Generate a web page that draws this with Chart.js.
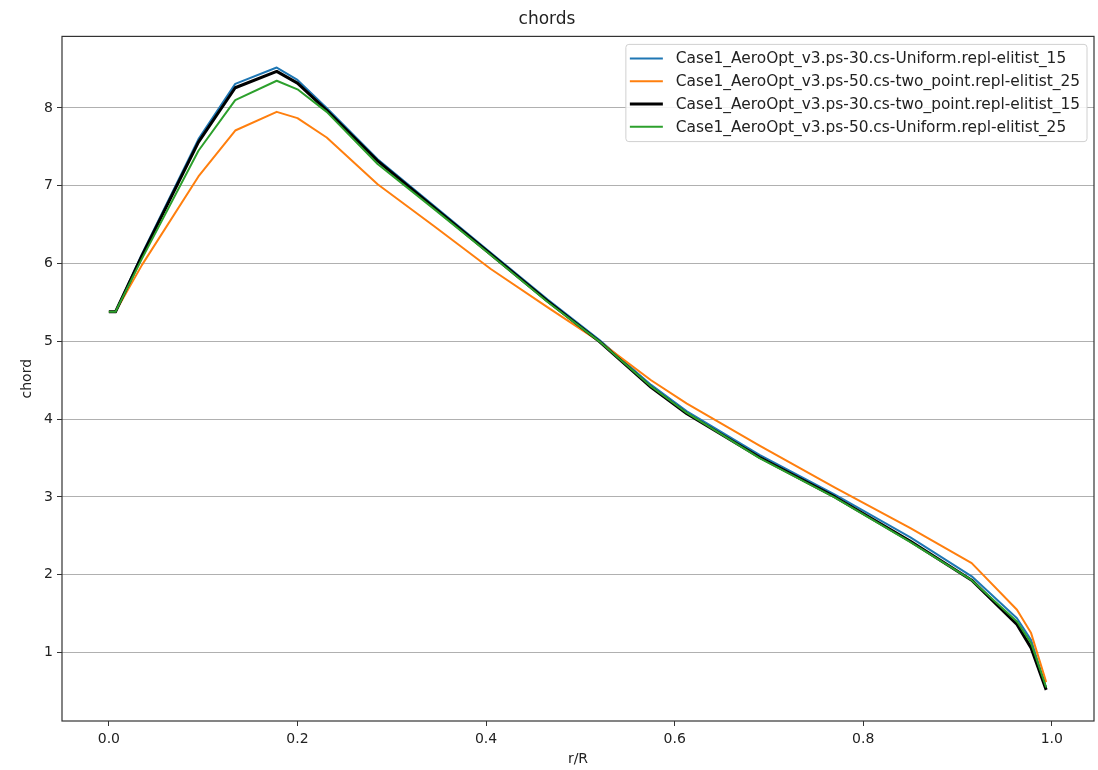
<!DOCTYPE html>
<html>
<head>
<meta charset="utf-8">
<script src="https://cdn.jsdelivr.net/npm/chart.js@4.4.1/dist/chart.umd.min.js"></script>
<style>
  body { margin: 0; background: #fff; }
  #wrap { width: 1098px; height: 770px; }
</style>
</head>
<body>
<div id="wrap"><canvas id="chordChart" width="1098" height="770"></canvas></div>
<script>
// r/R stations
const rR = [0, 0.007, 0.035, 0.095, 0.134, 0.178, 0.2, 0.231, 0.285, 0.345, 0.405, 0.465, 0.52, 0.575, 0.613, 0.69, 0.77, 0.85, 0.915, 0.963, 0.978, 0.994];

// chord per run
const uniform30  = [5.38, 5.38, 6.12, 7.60, 8.31, 8.52, 8.36, 8.00, 7.34, 6.74, 6.14, 5.54, 5.02, 4.44, 4.10, 3.54, 3.03, 2.48, 1.98, 1.44, 1.16, 0.54];
const twoPoint50 = [5.38, 5.38, 5.98, 7.12, 7.71, 7.95, 7.87, 7.62, 7.02, 6.48, 5.93, 5.44, 5.00, 4.50, 4.20, 3.66, 3.12, 2.60, 2.15, 1.55, 1.25, 0.62];
const twoPoint30 = [5.38, 5.38, 6.10, 7.56, 8.26, 8.47, 8.32, 7.97, 7.32, 6.72, 6.12, 5.52, 5.00, 4.41, 4.07, 3.51, 3.00, 2.43, 1.93, 1.36, 1.06, 0.52];
const uniform50  = [5.38, 5.38, 6.06, 7.45, 8.10, 8.35, 8.24, 7.95, 7.28, 6.70, 6.11, 5.51, 5.00, 4.42, 4.08, 3.50, 2.99, 2.42, 1.93, 1.40, 1.12, 0.55];

const seriesLabels = [
  'Case1_AeroOpt_v3.ps-30.cs-Uniform.repl-elitist_15',
  'Case1_AeroOpt_v3.ps-50.cs-two_point.repl-elitist_25',
  'Case1_AeroOpt_v3.ps-30.cs-two_point.repl-elitist_15',
  'Case1_AeroOpt_v3.ps-50.cs-Uniform.repl-elitist_25'
];
const seriesColors = ['#1f77b4', '#ff7f0e', '#000000', '#2ca02c'];
const seriesWidths = [2, 2, 3, 2];
const seriesValues = [uniform30, twoPoint50, twoPoint30, uniform50];

const FONT = 'DejaVu Sans';

// frame on all four sides (matplotlib spines)
const framePlugin = {
  id: 'frame',
  afterDatasetsDraw(chart) {
    const {ctx, chartArea: a} = chart;
    ctx.save();
    ctx.strokeStyle = '#333';
    ctx.lineWidth = 1.2;
    ctx.strokeRect(a.left, a.top, a.right - a.left, a.bottom - a.top);
    ctx.restore();
  }
};

// legend box inside the axes, upper right
const boxLegend = {
  id: 'boxLegend',
  afterDraw(chart) {
    const {ctx, chartArea: a} = chart;
    const sets = chart.data.datasets;
    ctx.save();
    ctx.font = '15.4px "' + FONT + '"';
    let textW = 0;
    sets.forEach(ds => { textW = Math.max(textW, ctx.measureText(ds.label).width); });
    const rowH = 22.8;
    const w = textW + 57, h = sets.length * rowH + 6;
    const x = a.right - 7 - w, y = a.top + 8;
    ctx.beginPath();
    ctx.roundRect(x, y, w, h, 3);
    ctx.fillStyle = 'rgba(255,255,255,0.85)';
    ctx.fill();
    ctx.strokeStyle = '#d0d0d0';
    ctx.lineWidth = 1;
    ctx.stroke();
    ctx.textBaseline = 'middle';
    sets.forEach((ds, i) => {
      const cy = y + 14 + i * rowH;
      ctx.beginPath();
      ctx.moveTo(x + 4, cy);
      ctx.lineTo(x + 37, cy);
      ctx.strokeStyle = ds.borderColor;
      ctx.lineWidth = ds.borderWidth;
      ctx.stroke();
      ctx.fillStyle = '#222';
      ctx.fillText(ds.label, x + 50, cy + 1);
    });
    ctx.restore();
  }
};

const ctx = document.getElementById('chordChart').getContext('2d');
const chordChart = new Chart(ctx, {
  type: 'line',
  data: {
    datasets: seriesValues.map((vals, i) => ({
      label: seriesLabels[i],
      data: rR.map((r, k) => ({x: r, y: vals[k]})),
      borderColor: seriesColors[i],
      backgroundColor: seriesColors[i],
      borderWidth: seriesWidths[i],
      pointRadius: 0,
      tension: 0,
      fill: false,
      borderJoinStyle: 'round',
      order: seriesValues.length - i
    }))
  },
  options: {
    responsive: false,
    animation: false,
    layout: { padding: { right: 4 } },
    plugins: {
      legend: { display: false },
      tooltip: { enabled: false },
      title: {
        display: true,
        text: 'chords',
        color: '#222',
        font: { family: FONT, size: 17, weight: 'normal' },
        padding: { top: 9, bottom: 7 }
      }
    },
    scales: {
      x: {
        type: 'linear',
        min: -0.0497, max: 1.0447,
        border: { display: false },
        grid: { drawOnChartArea: false, drawTicks: true, tickLength: 5, tickColor: '#333' },
        ticks: {
          stepSize: 0.2, includeBounds: false, padding: 5,
          color: '#222', font: { family: FONT, size: 14 },
          callback: v => v.toFixed(1)
        },
        title: { display: true, text: 'r/R', color: '#222', font: { family: FONT, size: 14 }, padding: { top: 0, bottom: 2 } },
        afterFit(scale) { scale.height = 49; }
      },
      y: {
        min: 0.12, max: 8.92,
        border: { display: false },
        grid: { color: '#b0b0b0', lineWidth: 1, tickLength: 5, tickColor: '#333' },
        ticks: {
          stepSize: 1, includeBounds: false, padding: 4,
          color: '#222', font: { family: FONT, size: 14 }
        },
        title: { display: true, text: 'chord', color: '#222', font: { family: FONT, size: 14 }, padding: { top: 19, bottom: 0 } },
        afterFit(scale) { scale.width = 62; }
      }
    }
  },
  plugins: [framePlugin, boxLegend]
});
</script>
</body>
</html>
